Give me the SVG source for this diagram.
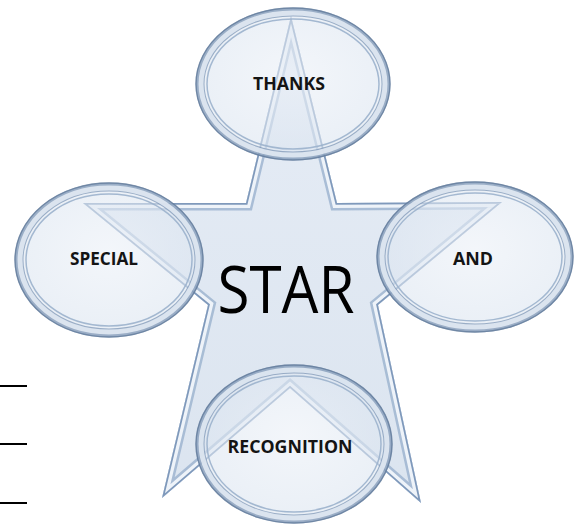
<svg xmlns="http://www.w3.org/2000/svg" width="584" height="527" viewBox="0 0 584 527">
<defs>
<clipPath id="starClip"><path d="M291,16 L337,203 L502,202 L378,305 L421,503 L290,388 L162,498 L208,305 L83,203 L246,203 Z"/></clipPath>
<linearGradient id="starFill" x1="0" y1="0" x2="0" y2="1">
<stop offset="0" stop-color="#e4ebf5"/><stop offset="1" stop-color="#d8e2ee"/>
</linearGradient>
<radialGradient id="ellFill" cx="0.5" cy="0.45" r="0.6">
<stop offset="0" stop-color="#ebf0f7"/><stop offset="1" stop-color="#d9e3ef"/>
</radialGradient>
</defs>
<style>
.lbl{font-family:"Open Sans","Liberation Sans",sans-serif;font-weight:bold;fill:#141414;text-anchor:middle}
.ell{fill:url(#ellFill);fill-opacity:0.6}
.ring1{fill:none;stroke:#7891b2;stroke-width:9;stroke-opacity:0.7}
.ring2{fill:none;stroke:#e6edf6;stroke-width:5;stroke-opacity:0.85}
.ring3{fill:none;stroke:#9bb1cc;stroke-width:1.5;stroke-opacity:0.9}
.rimo{fill:none;stroke:#5f7898;stroke-width:1.4;stroke-opacity:0.75}
.edge{stroke:#000;stroke-width:2}
</style>
<g id="lines">
<line class="edge" x1="0" y1="386" x2="27" y2="386"/>
<line class="edge" x1="0" y1="444" x2="27" y2="444"/>
<line class="edge" x1="0" y1="503" x2="27" y2="503"/>
</g>
<g id="star">
<path d="M291,16 L337,203 L502,202 L378,305 L421,503 L290,388 L162,498 L208,305 L83,203 L246,203 Z" fill="url(#starFill)" fill-opacity="0.92"/>
<g clip-path="url(#starClip)" fill="none" stroke-linejoin="miter">
<path d="M291,16 L337,203 L502,202 L378,305 L421,503 L290,388 L162,498 L208,305 L83,203 L246,203 Z" stroke="#9fb5d0" stroke-width="15" stroke-opacity="0.85"/>
<path d="M291,16 L337,203 L502,202 L378,305 L421,503 L290,388 L162,498 L208,305 L83,203 L246,203 Z" stroke="#eef3f9" stroke-width="10"/>
<path d="M291,16 L337,203 L502,202 L378,305 L421,503 L290,388 L162,498 L208,305 L83,203 L246,203 Z" stroke="#7f99bb" stroke-width="3.5"/>
</g>
<text x="286" y="313" font-family="Open Sans, Liberation Sans, sans-serif" font-size="66" fill="#000" textLength="137" lengthAdjust="spacingAndGlyphs" text-anchor="middle">STAR</text>
</g>
<g id="thanks">
<ellipse class="ell" cx="293" cy="84" rx="97" ry="76"/>
<ellipse class="ring1" cx="293" cy="84" rx="93" ry="72"/>
<ellipse class="ring2" cx="293" cy="84" rx="92" ry="71"/>
<ellipse class="ring3" cx="293" cy="84" rx="86" ry="65"/>
<ellipse class="rimo" cx="293" cy="84" rx="97" ry="76"/>
<text class="lbl" x="289" y="90" font-size="17" textLength="72" lengthAdjust="spacingAndGlyphs">THANKS</text>
</g>
<g id="special">
<ellipse class="ell" cx="109" cy="260" rx="94" ry="77"/>
<ellipse class="ring1" cx="109" cy="260" rx="90" ry="73"/>
<ellipse class="ring2" cx="109" cy="260" rx="89" ry="72"/>
<ellipse class="ring3" cx="109" cy="260" rx="83" ry="66"/>
<ellipse class="rimo" cx="109" cy="260" rx="94" ry="77"/>
<text class="lbl" x="104" y="265" font-size="17" textLength="68" lengthAdjust="spacingAndGlyphs">SPECIAL</text>
</g>
<g id="and">
<ellipse class="ell" cx="475" cy="257" rx="98" ry="75"/>
<ellipse class="ring1" cx="475" cy="257" rx="94" ry="71"/>
<ellipse class="ring2" cx="475" cy="257" rx="93" ry="70"/>
<ellipse class="ring3" cx="475" cy="257" rx="87" ry="64"/>
<ellipse class="rimo" cx="475" cy="257" rx="98" ry="75"/>
<text class="lbl" x="473" y="265" font-size="17" textLength="40" lengthAdjust="spacingAndGlyphs">AND</text>
</g>
<g id="recognition">
<ellipse class="ell" cx="294" cy="444" rx="98" ry="79"/>
<ellipse class="ring1" cx="294" cy="444" rx="94" ry="75"/>
<ellipse class="ring2" cx="294" cy="444" rx="93" ry="74"/>
<ellipse class="ring3" cx="294" cy="444" rx="87" ry="68"/>
<ellipse class="rimo" cx="294" cy="444" rx="98" ry="79"/>
<text class="lbl" x="290" y="453" font-size="17" textLength="125" lengthAdjust="spacingAndGlyphs">RECOGNITION</text>
</g>
<g id="connectors"/>
</svg>
